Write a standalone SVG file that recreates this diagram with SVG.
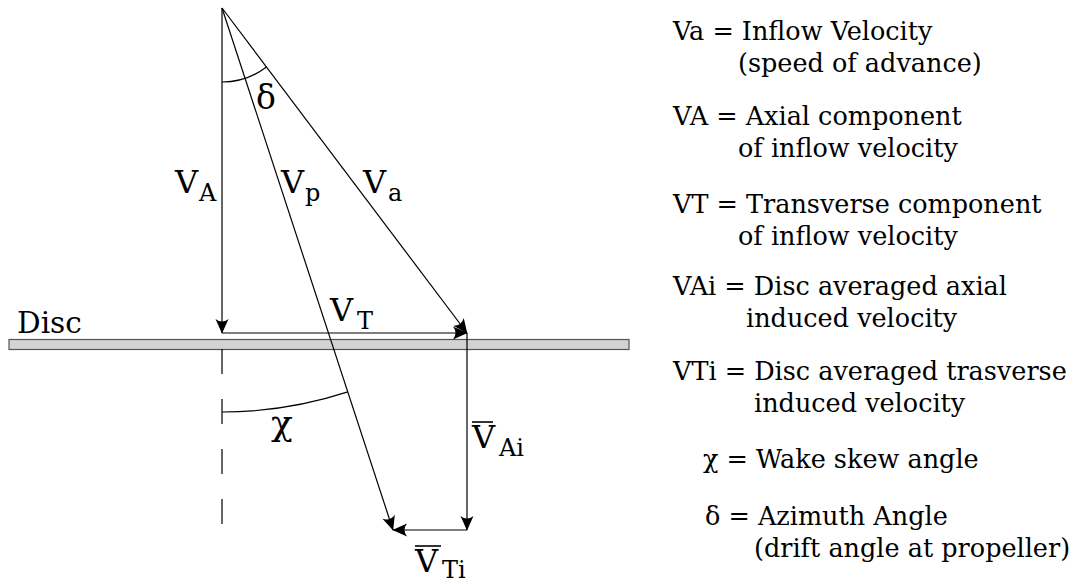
<svg xmlns="http://www.w3.org/2000/svg" width="1078" height="584" viewBox="0 0 1078 584">
  <style>
    .ln { stroke: #000; stroke-width: 1.2; fill: none; }
    .t { font-family: "DejaVu Serif", "Liberation Serif", serif; fill: #000; }
    .big { font-size: 32px; }
    .sub { font-size: 24px; }
    .leg { font-size: 25.5px; }
    .bar { stroke: #000; stroke-width: 1.6; }
  </style>
  <defs>
    <marker id="arr" viewBox="-15 -7 16 14" markerWidth="16" markerHeight="14" refX="0" refY="0" orient="auto" markerUnits="userSpaceOnUse">
      <path d="M0.5,0 L-14,-6.5 Q-9,0 -14,6.5 Z" fill="#000"/>
    </marker>
  </defs>
  <rect width="1078" height="584" fill="#fff"/>

  <g id="disc">
    <rect x="9" y="339.5" width="620" height="10" fill="#d3d3d3" stroke="#555" stroke-width="1.2"/>
    <text class="t" x="17" y="333" font-size="29.5">Disc</text>
  </g>

  <g id="connectors">
    <line id="VA" class="ln" x1="222" y1="8" x2="222" y2="333" marker-end="url(#arr)"/>
    <line id="VT" class="ln" x1="222" y1="333" x2="467" y2="333" marker-end="url(#arr)"/>
    <line id="Va" class="ln" x1="222" y1="8" x2="467" y2="333" marker-end="url(#arr)"/>
    <line id="Vp" class="ln" x1="222" y1="8" x2="393" y2="530" marker-end="url(#arr)"/>
    <line id="VAi" class="ln" x1="467" y1="333" x2="467" y2="530" marker-end="url(#arr)"/>
    <line id="VTi" class="ln" x1="467" y1="530" x2="393" y2="530" marker-end="url(#arr)"/>
    <line id="axis" class="ln" x1="222" y1="349" x2="222" y2="530" stroke-dasharray="25,25"/>
    <path id="delta-arc" class="ln" d="M222,82 A74,74 0 0 0 266.5,67.1"/>
    <path id="chi-arc" class="ln" d="M222,412 A404,404 0 0 0 347.8,391.9"/>
  </g>

  <g id="labels">
    <text class="t big" x="175" y="193">V</text><text class="t sub" x="199" y="201">A</text>
    <text class="t big" x="281" y="193">V</text><text class="t sub" x="305" y="201">p</text>
    <text class="t big" x="363" y="193">V</text><text class="t sub" x="388" y="201">a</text>
    <text class="t big" x="330" y="321">V</text><text class="t sub" x="357" y="329">T</text>
    <text class="t" x="256" y="109" font-size="33">δ</text>
    <text class="t" x="271" y="435" font-size="36">χ</text>
    <g id="label-VAi">
      <line class="bar" x1="472" y1="422" x2="493" y2="422"/>
      <text class="t big" x="472" y="448">V</text><text class="t sub" x="499" y="456">Ai</text>
    </g>
    <g id="label-VTi">
      <line class="bar" x1="415" y1="546" x2="441" y2="546"/>
      <text class="t big" x="415" y="572">V</text><text class="t sub" x="442" y="578">Ti</text>
    </g>
  </g>

  <g id="legend" class="t leg">
    <text x="673" y="40">Va = Inflow Velocity</text>
    <text x="738" y="72">(speed of advance)</text>
    <text x="673" y="125">VA = Axial component</text>
    <text x="738" y="157">of inflow velocity</text>
    <text x="673" y="213">VT = Transverse component</text>
    <text x="738" y="245">of inflow velocity</text>
    <text x="673" y="295">VAi = Disc averaged axial</text>
    <text x="746" y="327">induced velocity</text>
    <text x="673" y="380">VTi = Disc averaged trasverse</text>
    <text x="754" y="412">induced velocity</text>
    <text x="703" y="468">χ = Wake skew angle</text>
    <text x="705" y="525">δ = Azimuth Angle</text>
    <text x="754" y="557">(drift angle at propeller)</text>
  </g>
</svg>
